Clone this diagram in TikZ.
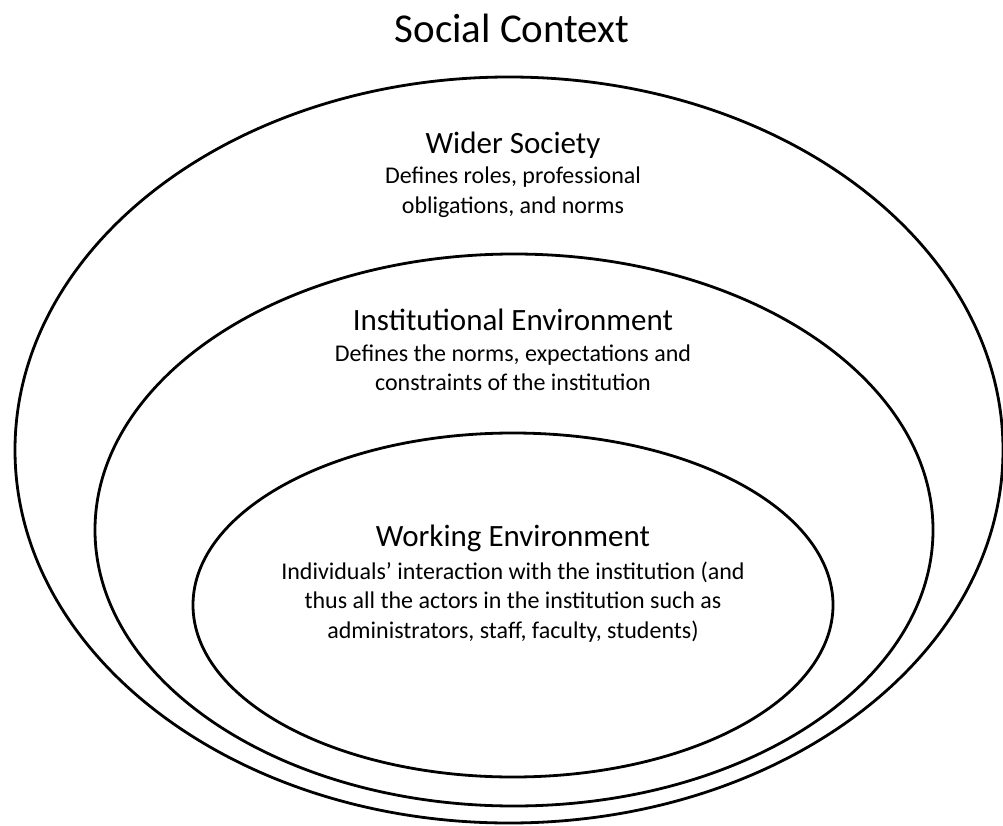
\documentclass[tikz,border=0pt]{standalone}
\usepackage{fontspec}
\setmainfont{Carlito}
\usetikzlibrary{shapes.geometric}

\tikzset{
  ring/.style={draw, ellipse, line width=2.8pt, inner sep=0pt},
  heading/.style={font=\fontsize{41}{49}\selectfont},
  title/.style={font=\fontsize{31}{36}\selectfont},
  blurb/.style={font=\fontsize{24}{29.5}\selectfont, align=center}
}

\begin{document}
\begin{tikzpicture}[x=1pt,y=-1pt]
  \useasboundingbox (0,0) rectangle (1003,826);
  % nested spheres
  \node[ring, minimum width=988, minimum height=746] (society) at (509,450) {};
  \node[ring, minimum width=838, minimum height=552] (institution) at (514,530) {};
  \node[ring, minimum width=640, minimum height=344] (work) at (513,605) {};

  \node[heading] (context) at (512,28) {Social Context};

  \node[title] (wider) at (513,145) {Wider Society};
  \node[blurb] (widerdesc) at (513,192) {Defines roles, professional\\obligations, and norms};

  \node[title] (inst) at (513,320) {Institutional Environment};
  \node[blurb] (instdesc) at (513,368) {Defines the norms, expectations and\\constraints of the institution};

  \node[title] (working) at (513,538) {Working Environment};
  \node[blurb] (workingdesc) at (513,602) {Individuals’ interaction with the institution (and\\thus all the actors in the institution such as\\administrators, staff, faculty, students)};
\end{tikzpicture}
\end{document}
